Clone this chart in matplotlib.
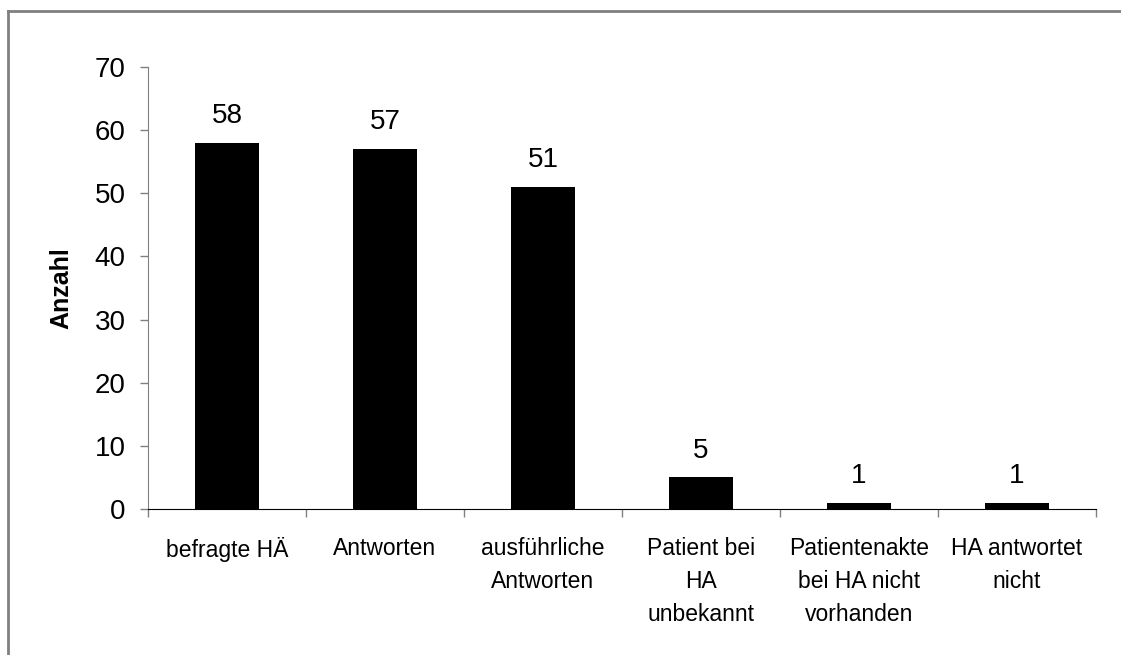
import numpy as np
import matplotlib
matplotlib.use('Agg')
import matplotlib.pyplot as plt
from matplotlib.lines import Line2D
from matplotlib.ticker import FixedLocator, NullFormatter, FixedFormatter

plt.rcParams['font.family'] = ['Liberation Sans', 'DejaVu Sans']

categories = [
    'befragte HÄ',
    'Antworten',
    'ausführliche\nAntworten',
    'Patient bei\nHA\nunbekannt',
    'Patientenakte\nbei HA nicht\nvorhanden',
    'HA antwortet\nnicht',
]
counts = [58, 57, 51, 5, 1, 1]
y_ticks = [0, 10, 20, 30, 40, 50, 60, 70]

fig = plt.figure(figsize=(11.21, 6.55), dpi=100)
ax = fig.add_axes([0.132, 0.2229, 0.8457, 0.6748])

x = np.arange(len(categories))
ax.bar(x, counts, width=0.4, color='black')

for xi, val in zip(x, counts):
    ax.annotate(str(val), (xi, val), xytext=(0, 10), textcoords='offset points',
                ha='center', va='bottom', fontsize=20)

ax.set_xlim(-0.5, len(categories) - 0.5)
ax.set_ylim(0, 70)
ax.set_yticks(y_ticks)
ax.tick_params(axis='y', labelsize=20, length=6, width=1, color='#808080', pad=10)

# boundary ticks on the x axis, labels sit at the category centres
ax.xaxis.set_major_locator(FixedLocator(np.arange(-0.5, len(categories), 1.0)))
ax.xaxis.set_major_formatter(NullFormatter())
ax.xaxis.set_minor_locator(FixedLocator(x))
ax.xaxis.set_minor_formatter(FixedFormatter(categories))
ax.tick_params(axis='x', which='major', length=6, width=1, color='#808080')
ax.tick_params(axis='x', which='minor', length=0, labelsize=16.5, pad=20)
for lbl in ax.get_xticklabels(minor=True):
    lbl.set_linespacing(1.55)
    lbl.set_verticalalignment('top')

for side in ('top', 'right'):
    ax.spines[side].set_visible(False)
ax.spines['left'].set_color('#808080')
ax.spines['bottom'].set_color('black')

ax.set_ylabel('Anzahl', fontsize=18, fontweight='bold')
ax.yaxis.set_label_coords(-0.079, 0.5)

# outer grey frame, open to the right and bottom
frame = dict(color='#808080', lw=2, transform=fig.transFigure)
fig.add_artist(Line2D([8 / 1121, 8 / 1121], [0, 1 - 11 / 655], **frame))
fig.add_artist(Line2D([8 / 1121, 1], [1 - 11 / 655, 1 - 11 / 655], **frame))

fig.savefig('out.png', dpi=100)
